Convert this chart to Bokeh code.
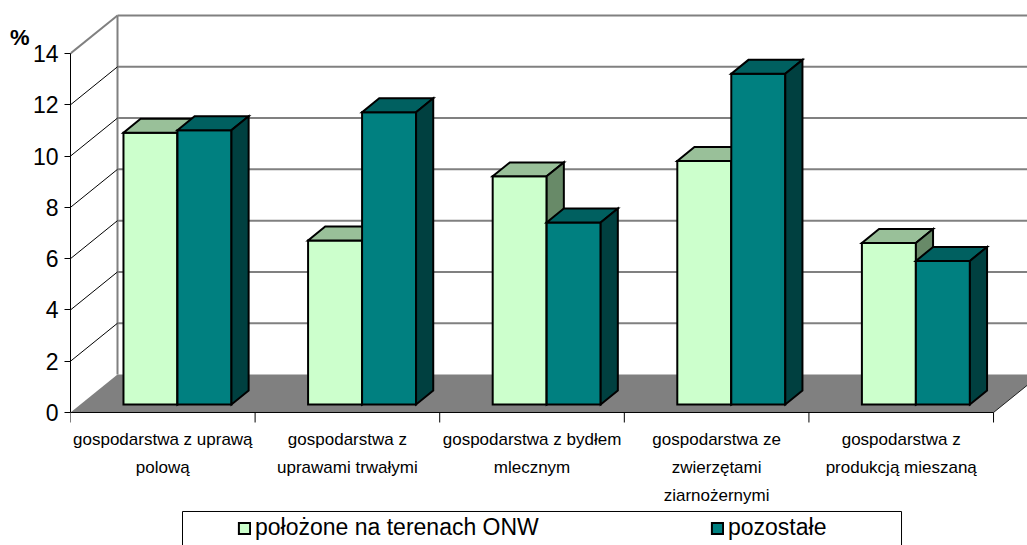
from bokeh.plotting import figure
from bokeh.models import (Range1d, FixedTicker, Legend, LegendItem, LinearAxis,
                          ColumnDataSource, CustomJSTickFormatter)
from bokeh.core.properties import value
from bokeh.embed import file_html
from bokeh.resources import INLINE

# ---------------- data ----------------
categories = [
    "gospodarstwa z uprawą\npolową",
    "gospodarstwa z\nuprawami trwałymi",
    "gospodarstwa z bydłem\nmlecznym",
    "gospodarstwa ze\nzwierzętami\nziarnożernymi",
    "gospodarstwa z\nprodukcją mieszaną",
]
series_names = ["położone na terenach ONW", "pozostałe"]
onw = [10.6, 6.4, 8.9, 9.5, 6.3]
pozostale = [10.7, 11.4, 7.1, 12.9, 5.6]
y_ticks = [0, 2, 4, 6, 8, 10, 12, 14]
unit_label = "%"

# ---------------- style / geometry constants ----------------
FONT = "Liberation Sans"
N = len(categories)
YMAX = 14
DX, DY = 0.2546, 1.482          # depth offset of the back wall (data units)
D1, D2 = 0.21, 0.575            # bar front / back depth
BAR_W = 0.2925                  # bar width (category units)
GROUP_C = 0.526                 # group centre inside category
front_cols = ["#CCFFCC", "#008080"]
top_cols = ["#99C099", "#006060"]
side_cols = ["#688A68", "#004040"]
GRID = "#808080"

p = figure(width=1027, height=545, output_backend="svg", toolbar_location=None,
           x_range=Range1d(0, 5.184), y_range=Range1d(-5.187, 16.067),
           min_border_left=70, min_border_right=0, min_border_top=0,
           min_border_bottom=0, background_fill_color="white",
           border_fill_color="white")
p.outline_line_color = None
p.xaxis.visible = False
p.xgrid.visible = False
p.ygrid.visible = False


def proj(x, y, d):
    return x + d * DX, y + d * DY


# back wall
bx, by = zip(*[proj(0, 0, 1), proj(N, 0, 1), proj(N, YMAX, 1), proj(0, YMAX, 1)])
p.patch(list(bx), list(by), fill_color="white", line_color=None)
# back wall gridlines
for v in y_ticks[1:]:
    (x0, y0), (x1, y1) = proj(0, v, 1), proj(N, v, 1)
    p.line([x0, x1], [y0, y1], line_color=GRID, line_width=2)
# back wall left edge
(x0, y0), (x1, y1) = proj(0, 0, 1), proj(0, YMAX, 1)
p.line([x0, x1], [y0, y1], line_color=GRID, line_width=2)
# side wall lines
for v in y_ticks[1:]:
    (x0, y0), (x1, y1) = proj(0, v, 0), proj(0, v, 1)
    if v == YMAX:
        p.line([x0, x1], [y0, y1], line_color=GRID, line_width=2)
    else:
        p.line([x0, x1], [y0, y1], line_color="black", line_width=1)
# floor
fx, fy = zip(*[proj(0, 0, 0), proj(N, 0, 0), proj(N, 0, 1), proj(0, 0, 1)])
p.patch(list(fx), list(fy), fill_color="#808080", line_color=None)
(x0, y0), (x1, y1) = proj(N, 0, 0), proj(N, 0, 1)
p.line([x0, x1], [y0, y1], line_color="#202020", line_width=1)

# bars
xs, ys, fills = [], [], []
for i in range(N):
    for s, vals in enumerate([onw, pozostale]):
        h = vals[i]
        xl = i + GROUP_C - BAR_W + s * BAR_W
        xr = xl + BAR_W
        faces = [
            ([(xl, 0, D1), (xr, 0, D1), (xr, h, D1), (xl, h, D1)], front_cols[s]),
            ([(xl, h, D1), (xr, h, D1), (xr, h, D2), (xl, h, D2)], top_cols[s]),
            ([(xr, 0, D1), (xr, h, D1), (xr, h, D2), (xr, 0, D2)], side_cols[s]),
        ]
        for pts, col in faces:
            pp = [proj(*q) for q in pts]
            xs.append([q[0] for q in pp])
            ys.append([q[1] for q in pp])
            fills.append(col)
src = ColumnDataSource(dict(xs=xs, ys=ys, fill=fills))
bars = p.patches("xs", "ys", source=src, fill_color="fill", line_color="black",
                 line_width=2, line_join="miter")

# category axis
p.line([0, N], [0, 0], line_color="black", line_width=1)
TICK = 0.39
p.segment(x0=list(range(N + 1)), y0=[0] * (N + 1), x1=list(range(N + 1)),
          y1=[-TICK] * (N + 1), line_color="black", line_width=1)
p.text(x=[i + 0.5 for i in range(N)], y=[-0.70] * N, text=categories,
       text_align="center", text_baseline="top", text_font=value(FONT),
       text_font_size="17px", text_color="black", text_line_height=1.45)

# value axis
ya = p.yaxis[0]
ya.bounds = (0, YMAX)
ya.ticker = FixedTicker(ticks=y_ticks)
ya.minor_tick_line_color = None
ya.major_tick_in = 0
ya.major_tick_out = 6
ya.major_label_standoff = 6
ya.axis_line_color = "black"
ya.major_tick_line_color = "black"
ya.major_label_text_font = FONT
ya.major_label_text_font_size = "23px"
ya.major_label_text_color = "black"

# unit label "%" as an outer left axis carrying a single label
pct = LinearAxis(ticker=FixedTicker(ticks=[14.62]),
                 formatter=CustomJSTickFormatter(code="return '%s';" % unit_label),
                 axis_line_color=None, major_tick_line_color=None,
                 minor_tick_line_color=None, major_tick_in=0, major_tick_out=0,
                 major_label_standoff=0, major_label_text_font=FONT,
                 major_label_text_font_size="22px",
                 major_label_text_font_style="bold",
                 major_label_text_color="black")
p.add_layout(pct, "left")

# legend box + legend
p.quad(left=[0.6067], right=[4.5016], top=[-3.861], bottom=[-6.5],
       fill_color="white", line_color="black", line_width=1)
legend = Legend(items=[LegendItem(label=series_names[0], renderers=[bars], index=0),
                       LegendItem(label=series_names[1], renderers=[bars], index=3)],
                orientation="horizontal", location=(167, 4), padding=0,
                margin=0, spacing=0, glyph_width=14, glyph_height=14,
                label_standoff=4, label_width=455, label_text_font=FONT,
                label_text_font_size="23px", label_text_color="black",
                background_fill_alpha=0, border_line_color=None)
p.add_layout(legend)

open("out.html", "w").write(file_html(p, INLINE))
